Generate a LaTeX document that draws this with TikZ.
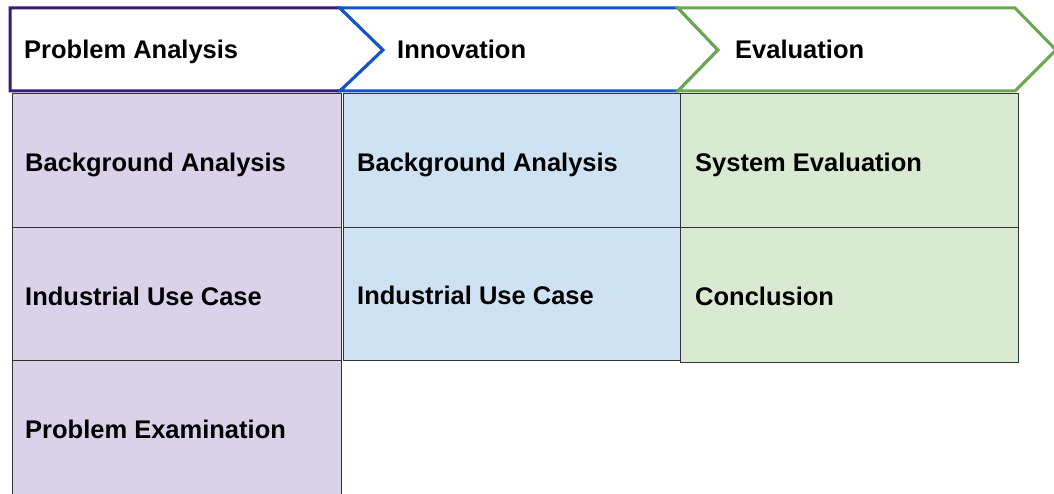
\documentclass[tikz,border=0pt]{standalone}
\usepackage{fontspec}
\setmainfont{Liberation Sans}
\definecolor{pcol}{HTML}{351C75}
\definecolor{icol}{HTML}{1155CC}
\definecolor{ecol}{HTML}{6AA84F}
\definecolor{pfill}{HTML}{D9D2E9}
\definecolor{ifill}{HTML}{CFE2F3}
\definecolor{efill}{HTML}{D9EAD3}
\definecolor{edge}{HTML}{333333}
\begin{document}
\begin{tikzpicture}[x=1pt,y=-1pt,
  hdr/.style={line width=3pt,fill=white,line join=miter},
  txt/.style={anchor=base west,inner sep=0pt,font=\fontsize{25.5}{30}\selectfont\bfseries},
  cell/.style={draw=edge,line width=1pt,anchor=north west,inner sep=0pt},
  pcell/.style={cell,fill=pfill,minimum width=329pt},
  icell/.style={cell,fill=ifill,minimum width=337pt},
  ecell/.style={cell,fill=efill,minimum width=338pt}]
\useasboundingbox (0,0) rectangle (1054,494);
% body cells
\node[pcell,minimum height=134pt] (pa1) at (12,93) {};
\node[pcell,minimum height=133pt] (pa2) at (12,227) {};
\node[pcell,minimum height=140pt] (pa3) at (12,360) {};
\node[icell,minimum height=134pt] (in1) at (343,93) {};
\node[icell,minimum height=133pt] (in2) at (343,227) {};
\node[ecell,minimum height=134pt] (ev1) at (680,93) {};
\node[ecell,minimum height=135pt] (ev2) at (680,227) {};
\node[txt] (pa1t) at (25,172) {Background Analysis};
\node[txt] (pa2t) at (25,305) {Industrial Use Case};
\node[txt] (pa3t) at (25,438) {Problem Examination};
\node[txt] (in1t) at (357,172) {Background Analysis};
\node[txt] (in2t) at (357,304) {Industrial Use Case};
\node[txt] (ev1t) at (695,172) {System Evaluation};
\node[txt] (ev2t) at (695,305) {Conclusion};
% headers
\draw[hdr,draw=pcol] (10,8) -- (340,8) -- (383,50) -- (340,91) -- (10,91) -- cycle;
\draw[hdr,draw=icol] (340,8) -- (678,8) -- (718,50) -- (678,91) -- (340,91) -- (383,50) -- cycle;
\draw[hdr,draw=ecol] (678,8) -- (1015,8) -- (1056,50) -- (1015,91) -- (678,91) -- (718,50) -- cycle;
\node[txt] (hp) at (24,59) {Problem Analysis};
\node[txt] (hi) at (397,59) {Innovation};
\node[txt] (he) at (735,59) {Evaluation};
\end{tikzpicture}
\end{document}
